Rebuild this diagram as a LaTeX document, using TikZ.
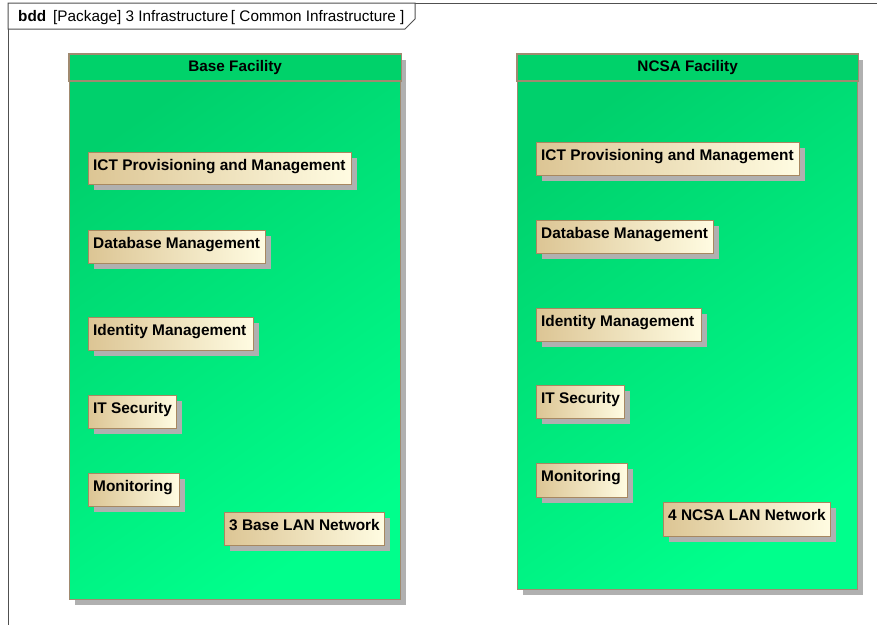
\documentclass[tikz,border=0pt]{standalone}
\usepackage{fontspec}
\setmainfont{Liberation Sans}
\usetikzlibrary{shadows,calc}
\definecolor{hdrgreen}{HTML}{00D26A}
\definecolor{bodytop}{HTML}{00D06C}
\definecolor{bodybot}{HTML}{00FF8C}
\definecolor{facborder}{HTML}{A08A70}
\definecolor{shadowgray}{HTML}{B0B0B0}
\definecolor{tanleft}{HTML}{DCC594}
\definecolor{tanright}{HTML}{FFFCE2}
\definecolor{boxborder}{HTML}{A88860}
\definecolor{framegray}{HTML}{505050}
\newcommand{\blkitem}[6]{%
  \node[blkbox, minimum width=#4pt, minimum height=#5pt] (#1) at (#2,#3) {};
  \node[blktext] (#1t) at ($(#1.north west)+(5,18.5)$) {#6};}
\begin{document}
\begin{tikzpicture}[x=1pt,y=-1pt,
  facbox/.style={draw=facborder, line width=1.3pt, top color=bodytop, bottom color=bodybot,
    shading angle=35, anchor=north west, inner sep=0pt,
    drop shadow={shadow xshift=5pt, shadow yshift=-5pt, fill=shadowgray, opacity=1}},
  fachdr/.style={fill=hdrgreen, draw=facborder, line width=1.3pt},
  factitle/.style={font=\bfseries\fontsize{15.3}{17}\selectfont, inner sep=0pt},
  blkbox/.style={draw=boxborder, line width=1.1pt, left color=tanleft, right color=tanright,
    anchor=north west, inner sep=0pt,
    drop shadow={shadow xshift=5pt, shadow yshift=-5pt, fill=shadowgray, opacity=1}},
  blktext/.style={font=\bfseries\fontsize{15.4}{17}\selectfont, inner sep=0pt, anchor=base west},
  framestyle/.style={draw=framegray, line width=1pt},
  titletext/.style={font=\fontsize{15.3}{17}\selectfont, inner sep=0pt, anchor=base west}]
\useasboundingbox (0,0) rectangle (877,624);
\clip (0,0) rectangle (877,624);
\fill[white] (0,0) rectangle (877,624);
% frame
\coordinate (ftl) at (8,3);
\coordinate (ftr) at (890,3);
\coordinate (fbl) at (8,640);
\draw[framestyle] (fbl) -- (ftl) -- (ftr);
\coordinate (tabA) at (415,3);
\coordinate (tabB) at (415,19);
\coordinate (tabC) at (405,29);
\coordinate (tabD) at (8,29);
\draw[framestyle, fill=white] (ftl) -- (tabA) -- (tabB) -- (tabC) -- (tabD) -- cycle;
\node[titletext] (ttl) at (18,21) {\textbf{bdd}\hspace{7pt}[Package] 3 Infrastructure\thinspace[ Common Infrastructure ]};
% Base facility
\node[facbox, minimum width=331pt, minimum height=545pt] (base) at (69,54) {};
\path[fachdr] (base.north west) rectangle ($(base.north east)+(0,27)$);
\node[factitle] (baset) at ($(base.north)+(0,13.5)$) {Base Facility};
% NCSA facility
\node[facbox, minimum width=340pt, minimum height=535pt] (ncsa) at (517,54) {};
\path[fachdr] (ncsa.north west) rectangle ($(ncsa.north east)+(0,27)$);
\node[factitle] (ncsat) at ($(ncsa.north)+(0,13.5)$) {NCSA Facility};
% Base blocks
\blkitem{bict}{88}{152}{263}{32}{ICT Provisioning and Management}
\blkitem{bdb}{88}{230}{177}{33}{Database Management}
\blkitem{bid}{88}{317}{165}{33}{Identity Management}
\blkitem{bit}{88}{395}{88}{33}{IT Security}
\blkitem{bmon}{88}{473}{91}{33}{Monitoring}
\blkitem{blan}{224}{512}{160}{33}{3 Base LAN Network}
% NCSA blocks
\blkitem{nict}{536}{142}{263}{33}{ICT Provisioning and Management}
\blkitem{ndb}{536}{220}{177}{33}{Database Management}
\blkitem{nid}{536}{308}{165}{33}{Identity Management}
\blkitem{nit}{536}{385}{88}{33}{IT Security}
\blkitem{nmon}{536}{463}{91}{34}{Monitoring}
\blkitem{nlan}{663}{502}{167}{34}{4 NCSA LAN Network}
\end{tikzpicture}
\end{document}
